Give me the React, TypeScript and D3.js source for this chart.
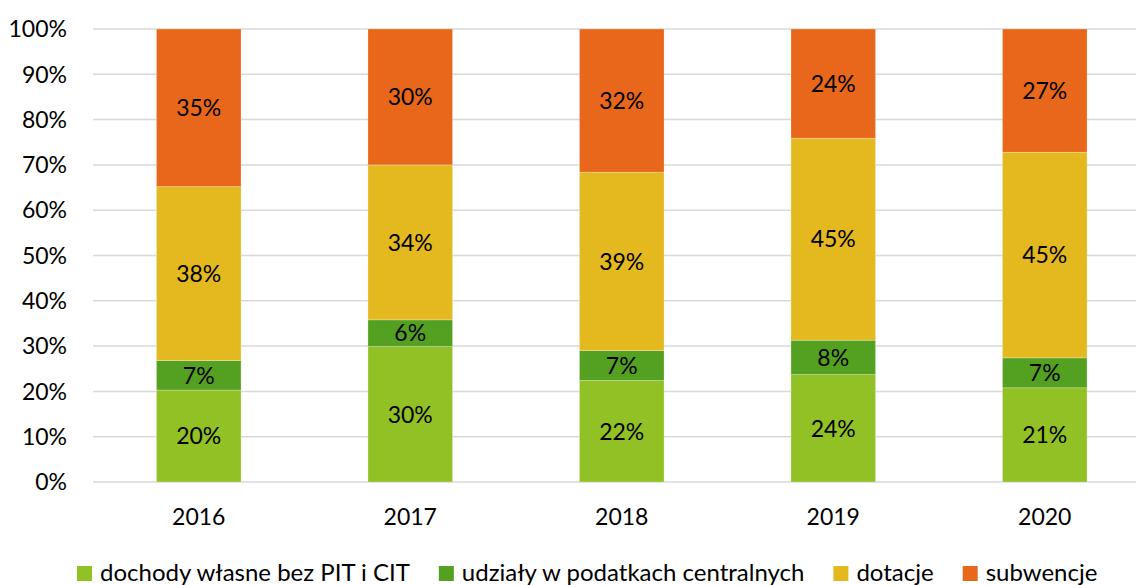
import React, { useEffect, useRef } from 'react';
import * as d3 from 'd3';

const years = ['2016', '2017', '2018', '2019', '2020'];
const seriesNames = [
  'dochody własne bez PIT i CIT',
  'udziały w podatkach centralnych',
  'dotacje',
  'subwencje',
];
const seriesColors = ['#92C126', '#54A122', '#E4B81F', '#E8671A'];

// shares in percent
const dochodyWlasne = [20.3, 29.9, 22.4, 23.7, 20.8];
const udzialy = [6.5, 5.9, 6.6, 7.6, 6.6];
const dotacje = [38.4, 34.2, 39.4, 44.6, 45.4];
const subwencje = [34.8, 30.0, 31.6, 24.1, 27.2];

const yTicks = [0, 10, 20, 30, 40, 50, 60, 70, 80, 90, 100];

const FONT = 'Lato, "Open Sans", sans-serif';

const App = () => {
  const svgRef = useRef<SVGSVGElement | null>(null);

  useEffect(() => {
    const svg = d3.select(svgRef.current);
    svg.selectAll('*').remove();

    const width = 1136;
    const height = 585;
    const plotLeft = 93;
    const plotRight = 1150.5;
    const plotTop = 29;
    const plotBottom = 482;

    svg.attr('width', width).attr('height', height);

    const x = d3.scaleBand<string>()
      .domain(years)
      .range([plotLeft, plotRight])
      .paddingInner(0.6)
      .paddingOuter(0.3);

    const y = d3.scaleLinear().domain([0, 100]).range([plotBottom, plotTop]);

    // gridlines
    svg.append('g')
      .selectAll('line')
      .data(yTicks)
      .join('line')
      .attr('x1', plotLeft)
      .attr('x2', width)
      .attr('y1', d => y(d))
      .attr('y2', d => y(d))
      .attr('stroke', '#d9d9d9')
      .attr('stroke-width', 1.5);

    // y axis labels
    svg.append('g')
      .selectAll('text')
      .data(yTicks)
      .join('text')
      .attr('x', 67)
      .attr('y', d => y(d))
      .attr('dy', '0.36em')
      .attr('text-anchor', 'end')
      .style('font-family', FONT)
      .style('font-size', '23px')
      .style('fill', '#000')
      .text(d => `${d}%`);

    const rows = years.map((yr, i) => ({
      year: yr,
      s0: dochodyWlasne[i],
      s1: udzialy[i],
      s2: dotacje[i],
      s3: subwencje[i],
    }));
    const stack = d3.stack<any>().keys(['s0', 's1', 's2', 's3']);
    const layers = stack(rows);

    const groups = svg.append('g')
      .selectAll('g')
      .data(layers)
      .join('g')
      .attr('fill', (d, i) => seriesColors[i]);

    groups.selectAll('rect')
      .data(d => d)
      .join('rect')
      .attr('x', d => x(d.data.year)!)
      .attr('width', x.bandwidth())
      .attr('y', d => y(d[1]))
      .attr('height', d => y(d[0]) - y(d[1]))
      .attr('stroke', '#ffffff')
      .attr('stroke-opacity', 0.35)
      .attr('stroke-width', 0.75);

    groups.selectAll('text')
      .data(d => d)
      .join('text')
      .attr('x', d => x(d.data.year)! + x.bandwidth() / 2)
      .attr('y', d => (y(d[0]) + y(d[1])) / 2)
      .attr('dy', '0.36em')
      .attr('text-anchor', 'middle')
      .style('font-family', FONT)
      .style('font-size', '23px')
      .style('fill', '#000')
      .text(d => `${Math.round(d[1] - d[0])}%`);

    // x axis labels
    svg.append('g')
      .selectAll('text')
      .data(years)
      .join('text')
      .attr('x', d => x(d)! + x.bandwidth() / 2)
      .attr('y', 517)
      .attr('dy', '0.36em')
      .attr('text-anchor', 'middle')
      .style('font-family', FONT)
      .style('font-size', '23px')
      .style('fill', '#000')
      .text(d => d);

    // legend
    const legend = svg.append('g');
    let lx = 77;
    seriesNames.forEach((name, i) => {
      legend.append('rect')
        .attr('x', lx)
        .attr('y', 566)
        .attr('width', 15)
        .attr('height', 15)
        .attr('fill', seriesColors[i]);
      const t = legend.append('text')
        .attr('x', lx + 23)
        .attr('y', 581)
        .style('font-family', FONT)
        .style('font-size', '24px')
        .style('fill', '#000')
        .text(name);
      const w = (t.node() as SVGTextElement).getComputedTextLength();
      lx = lx + 23 + w + 29;
    });
  }, []);

  return (
    <div style={{ position: 'absolute', left: 0, top: 0 }}>
      <svg ref={svgRef} style={{ display: 'block' }}></svg>
    </div>
  );
};

export default App;
